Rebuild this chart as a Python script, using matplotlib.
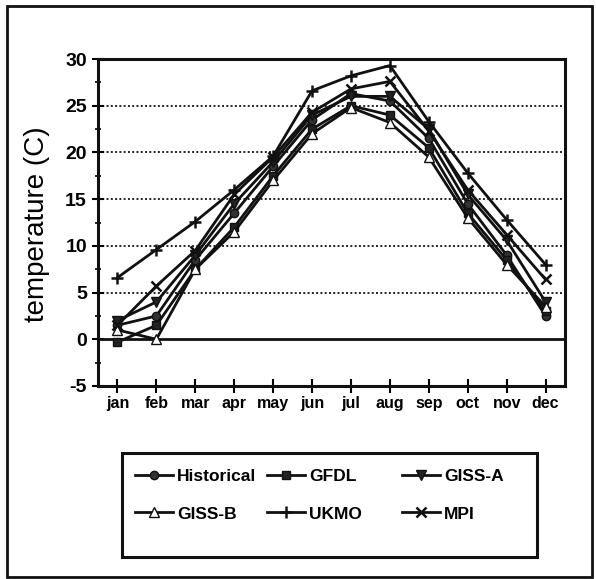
import matplotlib
matplotlib.use("Agg")
import matplotlib.pyplot as plt
from matplotlib.patches import Rectangle
from matplotlib.ticker import MultipleLocator

plt.rcParams['font.family'] = ['Liberation Sans', 'DejaVu Sans']
plt.rcParams['axes.unicode_minus'] = False

months = ["jan", "feb", "mar", "apr", "may", "jun", "jul", "aug", "sep", "oct", "nov", "dec"]
historical = [1.5, 2.5, 8.5, 13.5, 18.5, 23.5, 26.3, 25.5, 21.5, 14.5, 9.0, 2.5]
gfdl = [-0.3, 1.5, 7.5, 12.0, 17.5, 22.5, 25.0, 24.0, 20.5, 13.5, 8.5, 3.0]
giss_a = [2.0, 4.0, 9.0, 14.5, 19.0, 24.0, 26.0, 26.0, 22.5, 15.5, 10.6, 4.0]
giss_b = [1.0, 0.0, 7.5, 11.5, 17.0, 22.0, 24.8, 23.2, 19.5, 13.0, 8.0, 3.5]
ukmo = [6.6, 9.6, 12.6, 16.0, 19.6, 26.6, 28.2, 29.3, 23.3, 17.8, 12.8, 8.0]
mpi = [1.5, 5.7, 9.5, 15.5, 19.5, 24.3, 26.8, 27.6, 22.3, 16.0, 11.2, 6.4]

series = [
    ("Historical", historical, dict(marker='o', ms=6, mfc='#333333')),
    ("GFDL", gfdl, dict(marker='s', ms=6, mfc='#222222')),
    ("GISS-A", giss_a, dict(marker='v', ms=7, mfc='#222222')),
    ("GISS-B", giss_b, dict(marker='^', ms=7, mfc='white')),
    ("UKMO", ukmo, dict(marker='+', ms=8, mew=1.8)),
    ("MPI", mpi, dict(marker='x', ms=7, mew=1.8)),
]

fig = plt.figure(figsize=(5.96, 5.79), dpi=100)
ax = fig.add_axes([98/596, 1-386/579, 467/596, 327/579])

x = list(range(len(months)))
handles = {}
for name, vals, st in series:
    ln, = ax.plot(x, vals, color='#111111', lw=2.0, mec='#111111', zorder=3, **st)
    handles[name] = ln

ax.set_xlim(-0.5, 11.5)
ax.set_ylim(-5, 30)
ax.set_xticks(x)
ax.set_xticklabels(months, fontsize=11.5, fontweight='bold')
ax.yaxis.set_major_locator(MultipleLocator(5))
ax.yaxis.set_minor_locator(MultipleLocator(2.5))
ax.tick_params(axis='y', which='major', direction='inout', length=8, width=1.5, labelsize=14, pad=4)
ax.tick_params(axis='y', which='minor', direction='inout', length=5, width=1.2)
ax.tick_params(axis='x', which='major', direction='inout', length=10, width=1.5, pad=2)
for lab in ax.get_yticklabels():
    lab.set_fontweight('bold')

for v in [5, 10, 15, 20, 25]:
    ax.axhline(v, color='#222222', lw=1.4, ls=(0, (1, 1.2)), zorder=1)
ax.axhline(0, color='#111111', lw=2.0, zorder=2)

for sp in ax.spines.values():
    sp.set_linewidth(2.2)
    sp.set_color('#111111')

ax.set_ylabel("temperature (C)", fontsize=20)
ax.yaxis.set_label_coords(-0.103, 0.495)

# legend in three columns
cols = [["Historical", "GISS-B"], ["GFDL", "UKMO"], ["GISS-A", "MPI"]]
col_x = [126, 258, 393]
for cx, names in zip(col_x, cols):
    hs = [handles[n] for n in names]
    fig.legend(hs, names, loc='upper left', bbox_to_anchor=(cx/596, 1-460/579),
               frameon=False, borderpad=0, handlelength=2.2, handletextpad=0.25,
               labelspacing=1.3, prop=dict(size=12.5, weight='bold'))

fig.patches.append(Rectangle((122/596, 1-557/579), 415/596, 104/579, transform=fig.transFigure,
                             fill=False, edgecolor='#111111', lw=2.2))
fig.patches.append(Rectangle((7/596, 1-577/579), 585/596, 571/579, transform=fig.transFigure,
                             fill=False, edgecolor='#111111', lw=2.0))

fig.savefig("out.png", dpi=100)
